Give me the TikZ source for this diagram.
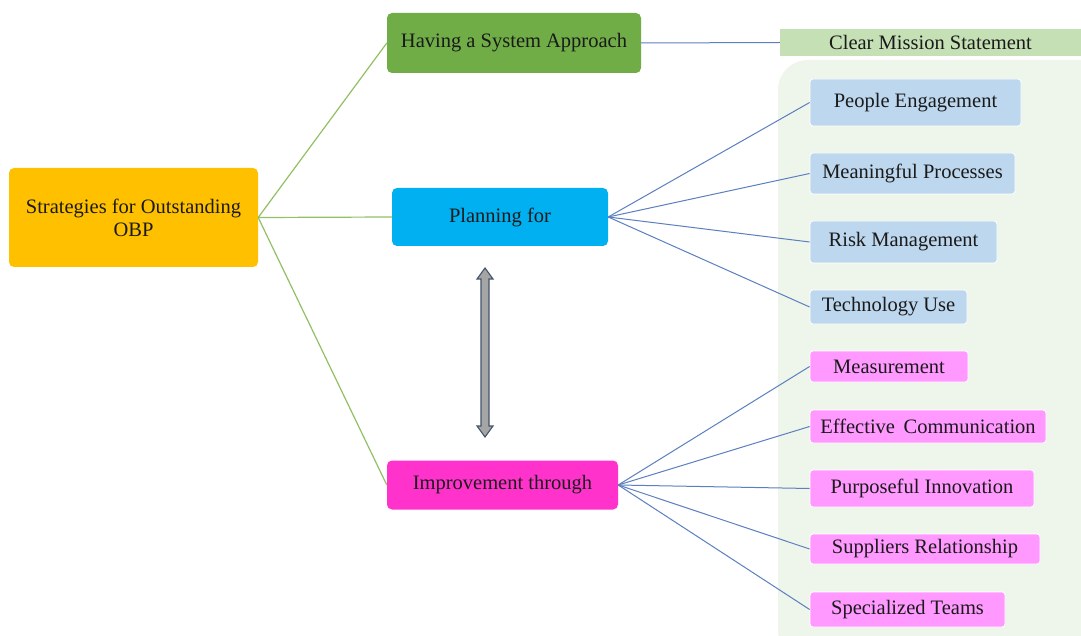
\documentclass[tikz,border=0pt]{standalone}
\usepackage{fontspec}
\usetikzlibrary{calc}
\setmainfont{Liberation Serif}
\definecolor{rootc}{HTML}{FFC000}
\definecolor{havc}{HTML}{70AD47}
\definecolor{planc}{HTML}{00B0F0}
\definecolor{impc}{HTML}{FF33CC}
\definecolor{missc}{HTML}{C5E0B4}
\definecolor{bgc}{HTML}{EEF5EA}
\definecolor{bluec}{HTML}{BDD7EE}
\definecolor{pinkc}{HTML}{FF99FF}
\definecolor{greenl}{HTML}{92C064}
\definecolor{bluel}{HTML}{5B7FBF}
\definecolor{arrowc}{HTML}{A5A5A5}
\definecolor{arrowb}{HTML}{44546A}
\definecolor{txt}{HTML}{1A1A1A}
\begin{document}
\begin{tikzpicture}[x=1pt,y=-1pt,
  box/.style={rectangle,rounded corners=5pt,inner sep=0pt,align=center,text=txt,
    font=\fontsize{20.5}{23}\selectfont},
  leaf/.style={box,rounded corners=3pt,draw=white,line width=0.8pt},
  gline/.style={draw=greenl,line width=1.2pt},
  bline/.style={draw=bluel,line width=1pt}]
\useasboundingbox (0,0) rectangle (1081,636);
\fill[white] (0,0) rectangle (1081,636);
\begin{scope}
\clip (0,0) rectangle (1081,636);
\fill[bgc,rounded corners=30pt] (778,60) rectangle (1110,660);
\end{scope}
% main nodes
\node[box,fill=rootc,minimum width=249pt,minimum height=99pt] (root) at (133.5,217.5) {Strategies for Outstanding\\OBP};
\node[box,fill=havc,minimum width=254pt,minimum height=60pt] (hav) at (514,43) {Having a System Approach};
\node[box,fill=planc,minimum width=216pt,minimum height=58pt] (plan) at (500,217) {Planning for};
\node[box,fill=impc,minimum width=231pt,minimum height=49pt] (imp) at (502.5,485) {Improvement through};
\node[box,rounded corners=0pt,fill=missc,minimum width=301pt,minimum height=27pt] (miss) at (930.5,42.5) {Clear Mission Statement};
% blue leaves
\node[leaf,fill=bluec,minimum width=211pt,minimum height=47pt] (b1) at (915.5,102.5) {People Engagement};
\node[leaf,fill=bluec,minimum width=205pt,minimum height=41pt] (b2) at (912.5,173.5) {Meaningful Processes};
\node[leaf,fill=bluec,minimum width=187pt,minimum height=42pt] (b3) at (903.5,242) {Risk Management};
\node[leaf,fill=bluec,minimum width=157pt,minimum height=34pt] (b4) at (888.5,307) {Technology Use};
% pink leaves
\node[leaf,fill=pinkc,minimum width=158pt,minimum height=31pt] (p1) at (889,366.5) {Measurement};
\node[leaf,fill=pinkc,minimum width=236pt,minimum height=33pt] (p2) at (928,426.5) {Effective\ \,Communication};
\node[leaf,fill=pinkc,minimum width=224pt,minimum height=37pt] (p3) at (922,488.5) {Purposeful Innovation};
\node[leaf,fill=pinkc,minimum width=230pt,minimum height=30pt] (p4) at (925,549) {Suppliers Relationship};
\node[leaf,fill=pinkc,minimum width=195pt,minimum height=35pt] (p5) at (907.5,609.5) {Specialized Teams};
% connectors
\draw[gline] (root.east) -- (hav.west);
\draw[gline] (root.east) -- (plan.west);
\draw[gline] (root.east) -- (imp.west);
\draw[bline] (hav.east) -- (miss.west);
\foreach \n in {b1,b2,b3,b4} \draw[bline] (plan.east) -- (\n.west);
\foreach \n in {p1,p2,p3,p4,p5} \draw[bline] (imp.east) -- (\n.west);
% double arrow
\coordinate (at) at (485,268);
\coordinate (ab) at (485,437);
\draw[fill=arrowc,draw=arrowb,line width=1.1pt,line join=miter]
  (at) -- ++(8,11) -- ++(-4,0) -- ($(ab)+(4,-11)$) -- ++(4,0) -- (ab) -- ++(-8,-11) -- ++(4,0)
  -- ($(at)+(-4,11)$) -- ++(-4,0) -- cycle;
\end{tikzpicture}
\end{document}
